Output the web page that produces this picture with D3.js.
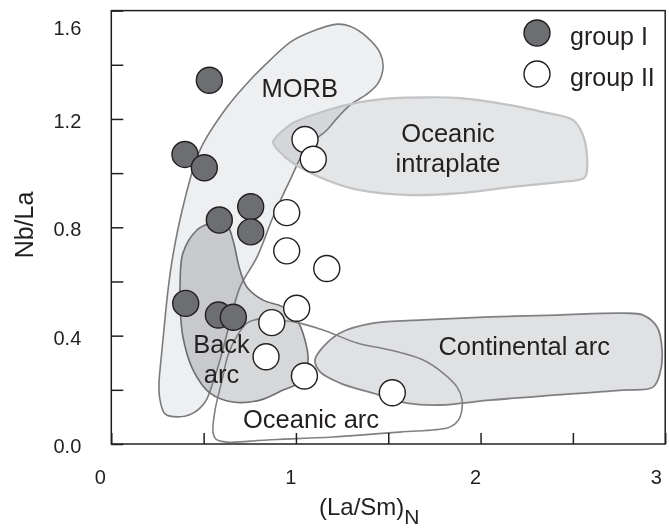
<!DOCTYPE html>
<html><head><meta charset="utf-8">
<script src="https://cdn.jsdelivr.net/npm/d3@7"></script>
<style>
html,body{margin:0;padding:0;background:#fff;}
svg text{font-family:"Liberation Sans",Arial,Helvetica,sans-serif;fill:#231f20;}
</style></head><body>
<svg id="chart" width="669" height="529"></svg>
<script>
// ---- data ----
const groupI_x = [0.531,0.399,0.504,0.755,0.755,0.585,0.403,0.580,0.661];
const groupI_y = [1.343,1.069,1.020,0.876,0.783,0.827,0.519,0.476,0.468];
const groupII_x = [1.049,1.094,0.950,0.950,1.167,1.004,0.869,0.838,1.046,1.522];
const groupII_y = [1.124,1.051,0.854,0.713,0.648,0.501,0.448,0.322,0.251,0.189];

const xTickValues = [0,0.5,1,1.5,2,2.5,3];
const xTickLabels = ["0","","1","","2","","3"];
const yTickValues = [0,0.2,0.4,0.6,0.8,1.0,1.2,1.4,1.6];
const yTickLabels = ["0.0","","0.4","","0.8","","1.2","","1.6"];

const morb = [[0.361,0.100],[0.291,0.111],[0.264,0.162],[0.258,0.218],[0.269,0.310],[0.285,0.421],[0.307,0.568],[0.334,0.697],[0.388,0.875],[0.480,1.085],[0.627,1.244],[0.751,1.343],[0.860,1.417],[0.968,1.483],[1.076,1.520],[1.223,1.550],[1.293,1.542],[1.385,1.502],[1.456,1.443],[1.472,1.391],[1.445,1.332],[1.391,1.295],[1.293,1.251],[1.223,1.203],[1.168,1.159],[1.060,1.096],[0.968,0.974],[0.876,0.838],[0.789,0.690],[0.697,0.579],[0.632,0.421],[0.589,0.310],[0.546,0.218],[0.508,0.155],[0.443,0.114]];
const intraplate = [[0.876,1.114],[0.914,1.148],[0.984,1.185],[1.168,1.232],[1.347,1.262],[1.526,1.277],[1.710,1.280],[1.889,1.277],[2.160,1.251],[2.339,1.225],[2.501,1.196],[2.550,1.148],[2.577,1.059],[2.566,0.985],[2.523,0.974],[2.431,0.967],[2.160,0.948],[1.889,0.926],[1.618,0.919],[1.347,0.937],[1.168,0.974],[0.984,1.037],[0.903,1.085]];
const continental = [[1.103,0.310],[1.147,0.358],[1.239,0.410],[1.418,0.446],[1.689,0.458],[2.051,0.469],[2.414,0.476],[2.772,0.483],[2.880,0.476],[2.956,0.432],[2.983,0.347],[2.972,0.262],[2.934,0.210],[2.772,0.199],[2.414,0.181],[2.051,0.162],[1.781,0.144],[1.602,0.151],[1.418,0.188],[1.239,0.225],[1.131,0.266]];
const backarc = [[0.372,0.579],[0.388,0.705],[0.464,0.790],[0.535,0.815],[0.573,0.819],[0.627,0.808],[0.659,0.753],[0.697,0.642],[0.735,0.579],[0.822,0.531],[0.930,0.506],[1.006,0.458],[1.049,0.384],[1.066,0.310],[1.038,0.236],[0.930,0.199],[0.806,0.162],[0.659,0.155],[0.535,0.188],[0.443,0.273],[0.388,0.395],[0.372,0.520]];
const oceanicArc = [[0.551,0.044],[0.562,0.125],[0.600,0.236],[0.632,0.328],[0.681,0.399],[0.735,0.446],[0.795,0.461],[0.887,0.458],[0.995,0.450],[1.147,0.421],[1.331,0.373],[1.510,0.347],[1.689,0.310],[1.797,0.262],[1.873,0.210],[1.900,0.162],[1.889,0.100],[1.862,0.074],[1.819,0.059],[1.564,0.044],[1.201,0.026],[0.843,0.015],[0.627,0.007],[0.567,0.018]];

const regionLabels = [
  {t:"MORB", x:1.021, y:1.280},
  {t:"Oceanic", x:1.824, y:1.114},
  {t:"intraplate", x:1.824, y:1.004},
  {t:"Continental arc", x:2.236, y:0.328},
  {t:"Back", x:0.597, y:0.336},
  {t:"arc", x:0.597, y:0.225},
  {t:"Oceanic arc", x:1.082, y:0.059}
];
const legendItems = [{name:"group I", fill:"#6d6e71"},{name:"group II", fill:"#ffffff"}];

// ---- drawing ----
const svg = d3.select("#chart");
const L = 111.3, R = 665.2, T = 10.6, B = 444;
const x = d3.scaleLinear().domain([0,3]).range([L,R]);
const y = d3.scaleLinear().domain([0,1.6]).range([B,T]);

const line = d3.line().x(d=>x(d[0])).y(d=>y(d[1])).curve(d3.curveCatmullRomClosed.alpha(0.5));

const regions = [
  {pts:morb, fill:"#eeeff1", stroke:"#7a7b7d", sw:1.6},
  {pts:intraplate, fill:"#e4e5e7", stroke:"#c2c3c5", sw:2.2},
  {pts:continental, fill:"#e0e1e3", stroke:"#808184", sw:1.8},
  {pts:backarc, fill:"#d6d7d9", stroke:"#6d6e71", sw:1.6},
  {pts:oceanicArc, fill:"none", stroke:"#808184", sw:1.6}
];
const g = svg.append("g");
g.selectAll("path.fill").data(regions).join("path")
  .attr("class","fill").attr("d",d=>line(d.pts))
  .attr("fill",d=>d.fill).style("mix-blend-mode","multiply");
g.selectAll("path.edge").data(regions).join("path")
  .attr("class","edge").attr("d",d=>line(d.pts))
  .attr("fill","none").attr("stroke",d=>d.stroke).attr("stroke-width",d=>d.sw);

// region labels
svg.append("g").selectAll("text").data(regionLabels).join("text")
  .attr("x",d=>x(d.x)).attr("y",d=>y(d.y))
  .attr("text-anchor","middle").style("font-size","25.5px").text(d=>d.t);

// frame
svg.append("rect").attr("x",L).attr("y",T).attr("width",R-L).attr("height",B-T)
  .attr("fill","none").attr("stroke","#231f20").attr("stroke-width",1.5);

// axes (ticks inward)
const xAxis = d3.axisBottom(x).tickValues(xTickValues).tickSize(-11).tickFormat("");
const yAxis = d3.axisLeft(y).tickValues(yTickValues).tickSize(-12).tickFormat("");
const xg = svg.append("g").attr("transform",`translate(0,${B})`).call(xAxis);
const yg = svg.append("g").attr("transform",`translate(${L},0)`).call(yAxis);
[xg,yg].forEach(a=>{a.select(".domain").remove(); a.selectAll("line").attr("stroke","#231f20").attr("stroke-width",1.5);});

svg.append("g").selectAll("text").data(xTickValues.map((v,i)=>({v,l:xTickLabels[i]})).filter(d=>d.l))
  .join("text").attr("x",d=>x(d.v) + (d.v===0?-11:(d.v===3?-9:-5))).attr("y",B+40)
  .attr("text-anchor","middle").style("font-size","20px").text(d=>d.l);
svg.append("g").selectAll("text").data(yTickValues.map((v,i)=>({v,l:yTickLabels[i]})).filter(d=>d.l))
  .join("text").attr("x",L-30).attr("y",d=>Math.max(y(d.v)+9, 34.5))
  .attr("text-anchor","end").style("font-size","20px").text(d=>d.l);

// axis titles
svg.append("text").attr("transform","translate(33,225) rotate(-90)")
  .attr("text-anchor","middle").style("font-size","25px").text("Nb/La");
const xt = svg.append("text").attr("x",319).attr("y",515).style("font-size","24px");
xt.append("tspan").text("(La/Sm)");
xt.append("tspan").attr("dy",9).style("font-size","21px").text("N");

// points
const pts1 = groupI_x.map((v,i)=>({x:v,y:groupI_y[i]}));
const pts2 = groupII_x.map((v,i)=>({x:v,y:groupII_y[i]}));
svg.append("g").selectAll("circle").data(pts1).join("circle")
  .attr("cx",d=>x(d.x)).attr("cy",d=>y(d.y)).attr("r",13)
  .attr("fill","#6d6e71").attr("stroke","#231f20").attr("stroke-width",1.4);
svg.append("g").selectAll("circle").data(pts2).join("circle")
  .attr("cx",d=>x(d.x)).attr("cy",d=>y(d.y)).attr("r",13)
  .attr("fill","#ffffff").attr("stroke","#231f20").attr("stroke-width",1.4);

// legend
const lg = svg.append("g").selectAll("g").data(legendItems).join("g")
  .attr("transform",(d,i)=>`translate(537,${33+i*41})`);
lg.append("circle").attr("r",13).attr("fill",d=>d.fill).attr("stroke","#231f20").attr("stroke-width",1.4);
lg.append("text").attr("x",33).attr("y",12).style("font-size","25px").text(d=>d.name);
</script>
</body></html>
